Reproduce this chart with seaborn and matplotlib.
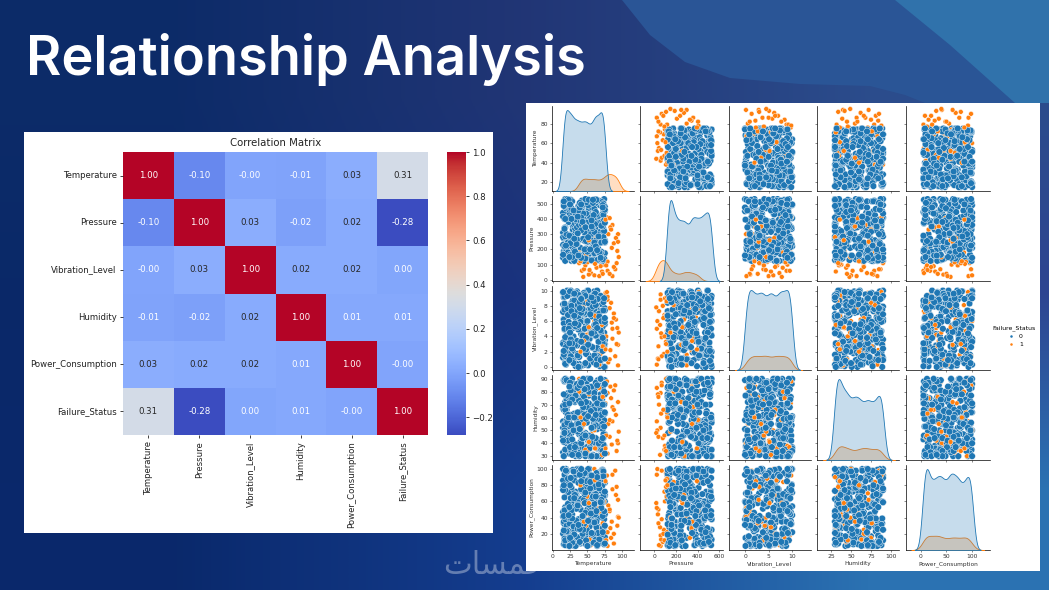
import numpy as np
import pandas as pd
import seaborn as sns
import matplotlib
matplotlib.use("Agg")
import matplotlib.pyplot as plt
from matplotlib.patches import Rectangle, Polygon

# Correlation matrix: read from the annotated cells
labels = ["Temperature", "Pressure", "Vibration_Level", "Humidity", "Power_Consumption", "Failure_Status"]
corr_temperature = [1.00, -0.10, -0.001, -0.01, 0.03, 0.31]
corr_pressure = [-0.10, 1.00, 0.03, -0.02, 0.02, -0.28]
corr_vibration = [-0.001, 0.03, 1.00, 0.02, 0.02, 0.001]
corr_humidity = [-0.01, -0.02, 0.02, 1.00, 0.01, 0.01]
corr_power = [0.03, 0.02, 0.02, 0.01, 1.00, -0.001]
corr_failure = [0.31, -0.28, 0.001, 0.01, -0.001, 1.00]

# Pair plot records. The clouds are too dense to read individually, so these
# hand-estimated rows only represent the visible ranges; they are illustrative.
t_ok = [15,62,38,71,24,49,33,75,19,56,42,68,28,53,37,64,17,46,72,31,
58,22,44,74,35,16,60,27,51,69,40,20,65,47,30,73,55,25,41,61,
18,52,70,34,48,23,66,39,75,29,57,15,43,63,26,50,36,72,21,59,
67,32,45,17,54,74,28,62,38,19,49,70,24,56,42,16,64,33,52,68,
35,75,22,47,60,30,15,55,40,71,26,65,44,18,58,37,73,23,50,66,
31,20,61,41,69,27,53,16,46,74,34,63,25,57,39,15,48,72,29,59,
43,21,67,36,75,17,51,32,62,24,45,70,28,54,19,64,38,60,22,49,
73,33,56,16,42,68,26,52,35,18,65,47,75,30,58,20,40,71,25,61,
44,15,55,37,69,23,50,66,31,17,63,41,74,27,53,34,59,21,46,72,
39,16,57,29,67,43,19,60,48,75,24,36,64,32,51,70,18,45,26,62,
20,73,29,47,66,18,54,38,70,25,60,43,15,35,75,52,22,64,31,57,
41,68,17,49,28,72,36,62,24,45,74,33,55,19,67,40,26,59,71,16,
50,30,63,21,46,69,37,75,27,53,42,18,61,34,48,73,23,65,39,15,
56,29,70,44,20,58,32,66,25,51,74,36,17,62,41,28,68,47,19,54,
35,72,24,60,43,16,64,31,52,75,22,46,38,69,27,57,33,71,21,49]
p_ok = [310,505,180,430,260,375,140,480,225,350,520,165,410,295,455,130,340,200,490,270,
385,150,440,320,235,510,175,400,280,125,465,215,360,530,190,425,300,145,495,250,
345,470,135,395,205,515,285,160,450,330,240,415,125,370,525,185,305,475,220,135,
355,440,170,500,265,390,150,325,460,210,530,275,405,128,365,485,195,290,435,155,
380,245,510,140,315,455,230,420,175,350,495,130,270,400,525,160,335,445,205,375,
125,480,255,410,145,300,520,190,360,470,235,430,165,340,505,280,135,385,450,215,
325,530,180,415,260,490,150,370,295,440,125,355,515,200,275,405,170,465,245,320,
500,140,390,225,475,310,155,425,265,530,185,345,460,130,285,395,210,510,240,365,
435,165,305,485,125,380,250,420,195,335,525,145,455,290,175,410,230,500,350,135,
475,270,400,160,315,445,205,520,255,375,150,430,295,340,490,185,125,360,465,220,
205,460,355,130,520,285,410,165,245,495,335,150,440,230,375,525,180,300,125,480,
265,145,400,510,215,350,170,445,290,135,530,320,195,470,240,385,155,425,275,500,
140,365,225,515,310,175,455,250,125,390,485,200,340,160,435,280,525,210,370,145,
475,235,130,415,300,505,185,355,260,450,140,395,220,530,325,165,490,270,405,190,
345,125,460,245,380,515,155,295,430,175,520,255,360,135,470,215,330,500,150,410]
v_ok = [3.2,8.7,0.4,6.1,9.8,1.9,5.3,7.4,2.6,9.1,4.4,0.1,7.9,3.7,6.6,1.2,8.3,5.0,2.1,9.6,
4.8,0.8,7.1,3.0,9.9,5.7,1.5,8.0,2.9,6.3,0.2,4.1,9.4,6.9,1.0,3.5,7.6,5.4,8.9,2.3,
0.6,9.2,4.6,7.2,1.7,5.9,3.3,8.5,0.0,6.7,2.5,9.7,4.0,7.8,1.3,5.2,8.1,3.8,10.0,0.9,
6.4,2.8,7.5,4.9,1.1,9.0,3.1,5.6,8.4,0.3,6.0,2.2,9.5,4.3,7.3,1.6,5.1,8.8,3.6,0.7,
3.4,7.7,1.8,9.3,5.5,0.5,8.2,2.7,6.5,4.2,10.0,1.4,7.0,3.9,9.0,0.0,5.8,2.4,8.6,4.7,
6.8,1.9,9.6,3.3,0.9,7.4,5.0,2.0,8.3,4.5,0.4,6.2,9.9,2.6,7.7,1.2,5.5,3.9,8.7,0.6,
4.1,9.3,6.6,1.5,3.0,7.9,0.2,5.3,8.0,2.3,9.7,4.6,0.8,6.9,3.5,10.0,1.7,7.2,5.8,2.9,
8.5,0.1,4.4,9.1,6.1,1.0,3.7,7.5,5.2,2.0,8.9,0.5,6.4,4.0,9.4,1.3,7.0,3.2,5.7,8.2,
2.4,9.8,0.7,4.9,7.3,1.8,6.0,3.4,8.7,5.0,0.3,9.0,2.7,6.7,4.3,7.8,1.1,5.4,9.5,3.1,
0.0,6.3,8.1,2.1,4.7,9.2,1.6,7.6,3.8,5.9,0.9,8.4,2.5,6.5,10.0,4.2,1.4,7.1,3.6,5.6,
7.8,2.2,5.1,9.4,0.7,3.6,8.8,1.3,6.0,4.5,9.9,0.2,7.2,2.8,5.6,8.3,3.9,1.0,6.7,9.1,
4.3,0.5,7.5,2.5,9.6,5.3,1.7,8.1,3.1,6.4,0.0,9.0,4.7,2.0,7.0,5.9,1.4,8.6,3.4,6.2,
10.0,0.9,4.0,7.7,2.7,9.3,5.5,1.1,8.4,3.7,6.9,0.4,4.9,9.7,2.3,7.4,5.0,1.6,8.9,3.0,
6.6,0.6,4.4,9.5,2.9,7.9,5.7,1.9,8.0,3.3,6.1,0.1,9.2,4.1,7.1,2.4,5.4,8.5,1.2,3.8,
9.8,6.3,0.8,4.6,7.6,2.1,5.2,8.7,1.5,3.5,6.8,0.3,9.4,4.8,7.3,2.6,5.8,8.2,1.8,3.2]
h_ok = [52,84,33,71,46,88,39,63,77,30,58,42,90,67,36,74,50,82,44,60,
31,79,55,38,86,48,69,34,61,90,41,75,53,30,81,47,65,37,87,57,
72,43,32,85,59,76,40,51,89,35,66,45,78,30,62,83,49,70,37,56,
88,33,68,54,41,80,31,73,47,64,90,38,58,84,44,30,71,52,77,36,
61,86,42,32,75,50,67,39,82,55,34,89,46,70,59,31,79,43,63,87,
35,57,74,40,90,48,30,66,83,53,37,72,60,45,85,33,69,51,78,41,
81,56,30,64,47,88,38,73,54,34,76,62,43,90,50,36,84,58,32,68,
44,77,52,89,31,65,40,80,55,35,70,46,86,61,30,74,49,83,37,59,
90,42,67,33,78,53,85,39,63,48,30,71,56,87,36,75,44,60,82,34,
51,30,69,41,88,57,32,79,45,64,84,38,54,72,90,35,66,47,81,62,
66,35,81,48,59,90,30,73,42,87,54,37,69,31,78,46,62,85,33,51,
75,40,89,56,32,64,83,44,71,36,58,30,79,49,67,88,34,53,74,41,
61,86,38,70,47,90,55,32,77,43,65,35,82,50,72,39,60,84,31,57,
45,76,30,68,89,52,37,63,80,42,70,33,55,87,47,74,36,61,90,40,
58,83,32,66,44,78,51,35,71,86,48,62,30,75,54,38,81,43,69,56]
w_ok = [78,12,55,91,33,6,67,44,98,21,73,15,59,87,38,5,49,95,27,64,
10,83,41,70,100,24,57,8,36,92,50,17,76,63,29,97,45,13,85,31,
53,94,19,68,7,40,81,26,60,99,11,47,74,35,89,5,56,22,71,43,
96,30,62,14,84,48,9,77,37,100,25,65,52,18,90,42,6,72,58,28,
16,69,88,46,34,97,20,61,8,79,54,39,93,12,66,31,82,5,50,75,
86,23,44,100,59,15,73,35,95,7,51,28,80,64,10,41,91,19,57,68,
37,98,13,55,83,26,70,6,47,89,32,62,17,76,100,43,9,60,24,85,
67,5,92,33,49,78,14,56,97,38,21,71,8,87,45,30,63,99,18,52,
25,74,40,11,94,58,35,84,5,65,48,100,16,77,29,54,90,22,69,42,
93,7,61,36,81,20,96,46,12,72,53,27,88,34,100,57,6,75,39,66,
47,88,23,63,8,74,35,96,52,15,81,41,100,29,67,6,57,90,19,72,
33,85,11,60,44,98,26,69,5,79,38,92,54,14,76,31,64,9,87,48,
22,70,95,40,58,12,83,30,66,100,17,50,78,36,7,91,43,62,25,86,
55,10,73,34,97,20,68,46,5,84,28,59,93,13,75,39,61,18,89,51,
32,99,7,65,42,80,24,56,94,16,71,37,100,9,49,83,27,60,12,77]

t_fail = [78,84,91,95,76,88,80,93,86,79,90,82,77,94,85,
38,42,47,52,58,63,67,71,40,55,74,45,60,69,50,
38,45,52,60,66,70,42,56,48,63,
82,88,92,79,86,94,76,83,44,53,61,72]
p_fail = [410,330,275,150,395,240,300,190,360,120,70,405,95,250,210,
110,60,95,35,118,80,25,55,122,45,100,70,30,90,115,
180,350,260,385,300,140,210,330,160,280,
40,85,110,60,25,300,180,345,20,65,105,40]
v_fail = [9.8,8.4,6.2,4.5,2.3,7.0,0.6,5.1,3.7,9.2,1.4,7.7,4.0,2.9,5.8,
3.3,9.5,6.8,1.1,4.7,8.0,0.3,5.5,2.0,7.3,9.0,3.9,6.0,1.7,8.6,
8.1,3.4,5.2,6.5,1.6,9.4,2.4,7.5,4.2,0.9,
1.0,6.4,3.0,8.8,5.0,0.2,9.7,2.2,7.8,4.4,6.7,2.7]
h_fail = [88,75,62,49,36,81,55,42,68,32,85,58,46,72,39,
90,52,35,78,64,44,83,31,60,70,38,87,50,66,33,
80,55,41,69,86,37,61,47,73,30,
45,66,34,79,57,40,71,84,48,63,36,76]
w_fail = [92,15,68,40,85,8,55,30,75,22,98,48,12,62,35,
95,18,72,44,88,10,52,28,80,6,60,38,100,25,66,
84,35,58,18,76,45,10,65,30,90,
50,20,78,5,93,41,70,27,58,13,86,33]

x_ticks = [[0,25,50,75,100],[0,200,400,600],[0,5,10],[25,50,75,100],[0,50,100]]
y_ticks = [[20,40,60,80],[0,100,200,300,400,500],[0,2,4,6,8,10],[30,40,50,60,70,80,90],[20,40,60,80,100]]
x_lims = [(-1,117),(-130,635),(-3.4,14),(7.5,110),(-29,135)]
y_lims = [(11,98),(-7,550),(-0.4,10.6),(27,93),(0,105)]

W, H = 1049, 590
def box(l, t, r, b):
    return [l/W, 1-b/H, (r-l)/W, (b-t)/H]

df = pd.DataFrame({
    labels[0]: t_ok+t_fail, labels[1]: p_ok+p_fail, labels[2]: v_ok+v_fail,
    labels[3]: h_ok+h_fail, labels[4]: w_ok+w_fail,
    labels[5]: [0]*len(t_ok)+[1]*len(t_fail)})
# blend failures into the cloud, as dataset order does in the reference
df = df.iloc[sorted(range(len(df)), key=lambda i: (i*37) % len(df))].reset_index(drop=True)

g = sns.pairplot(df, vars=labels[:5], hue=labels[5], height=1,
                 plot_kws=dict(s=23, edgecolor="white", linewidth=0.3),
                 diag_kws=dict(bw_adjust=0.6, linewidth=0.6))
fig = g.figure
fig.set_size_inches(W/100, H/100)
fig.set_dpi(100)

# smaller failure markers, nearer the reference's orange dots
marker_sizes = np.where(df[labels[5]].to_numpy() == 1, 12, 23)

lefts = [552, 640, 729, 817, 906]
rights = [634, 723, 811, 899, 990]
tops = [106, 196, 286, 375, 465]
bottoms = [191, 281, 370, 460, 550]
for r in range(5):
    for c in range(5):
        ax = g.axes[r, c]
        ax.set_position(box(lefts[c], tops[r], rights[c], bottoms[r]))
        ax.tick_params(labelsize=4.3, length=1.5, width=0.4, pad=1.5, colors="#333333")
        for s in ax.spines.values():
            s.set_linewidth(0.5)
        if r != c:
            ax.collections[0].set_sizes(marker_sizes)
for c in range(5):
    for r in range(5):
        g.axes[r, c].set_xlim(*x_lims[c])
        g.axes[r, c].set_xticks(x_ticks[c])
    g.axes[4, c].set_xlabel(labels[c], fontsize=4.2, labelpad=1.5, color="#333333")
for r in range(5):
    for c in range(5):
        if c != r:
            g.axes[r, c].set_ylim(*y_lims[r])
            g.axes[r, c].set_yticks(y_ticks[r])
    g.axes[r, 0].set_ylabel(labels[r], fontsize=4.2, labelpad=1.5, color="#333333")
g.axes[0, 0].set_ylim(*y_lims[0])
g.axes[0, 0].set_yticks(y_ticks[0])
g.axes[0, 0].tick_params(labelleft=True)
for r in range(1, 5):
    g.axes[r, r].tick_params(left=True, labelleft=False)

sns.move_legend(g, "center", bbox_to_anchor=(1014/W, 1-336/H), fontsize=4.4,
                title_fontsize=4.4, frameon=False, markerscale=0.45,
                labelspacing=0.5, handletextpad=0.3)

# slide background, panels
deco = fig.add_axes([0, 0, 1, 1], zorder=-5)
deco.set_xlim(0, W); deco.set_ylim(H, 0); deco.axis("off")
corners = np.array([[[0.05,0.17,0.41],[0.13,0.21,0.46],[0.17,0.30,0.55]],
                    [[0.04,0.16,0.41],[0.10,0.20,0.50],[0.18,0.27,0.57]],
                    [[0.04,0.16,0.42],[0.08,0.24,0.56],[0.17,0.45,0.70]]])
deco.imshow(corners, extent=[0, W, H, 0], aspect="auto", interpolation="bilinear", zorder=0)
deco.set_xlim(0, W); deco.set_ylim(H, 0)
deco.add_patch(Polygon([(622,0),(650,35),(685,62),(730,78),(800,84),(870,86),(905,95),(925,103),(1049,103),(1049,0)],
                       closed=True, fc="#2a5596", ec="none", zorder=1))
deco.add_patch(Polygon([(895,0),(950,45),(1015,103),(1049,103),(1049,0)],
                       closed=True, fc="#3072ab", ec="none", zorder=2))
deco.add_patch(Rectangle((24, 132), 469, 401, fc="white", ec="none", zorder=3))
deco.add_patch(Rectangle((526, 103), 514, 468, fc="white", ec="none", zorder=3))

# heatmap
hm = fig.add_axes(box(123, 152, 428, 435))
cb = fig.add_axes(box(447, 152, 466, 435))
corr = pd.DataFrame([corr_temperature, corr_pressure, corr_vibration, corr_humidity,
                     corr_power, corr_failure], index=labels, columns=labels)
sns.heatmap(corr, annot=True, fmt=".2f", cmap="coolwarm", ax=hm, cbar_ax=cb,
            annot_kws=dict(fontsize=6.2))
hm.set_title("Correlation Matrix", fontsize=7.3, pad=4, color="#222222")
hm.tick_params(labelsize=6.1, length=2.5, width=0.6, pad=2, colors="#222222")
hm.tick_params(axis="x", labelrotation=90)
hm.tick_params(axis="y", labelrotation=0)
cb.tick_params(labelsize=6.2, length=2.5, width=0.6, pad=2, colors="#222222")
cb.set_yticks([-0.2, 0, 0.2, 0.4, 0.6, 0.8, 1.0])
cb.set_yticklabels(["−0.2", "0.0", "0.2", "0.4", "0.6", "0.8", "1.0"])

fig.text(26/W, 1-60/H, "Relationship Analysis", color="white", fontsize=39,
         family="Inter", fontweight="semibold", va="center", ha="left")
fig.text(494/W, 1-565/H, "\ufe95\ufe8e\ufeb4\ufee4\ufea7", color="white", alpha=0.35,
         fontsize=22, family="DejaVu Sans", va="center", ha="center", zorder=10)

fig.savefig("out.png", dpi=100)
